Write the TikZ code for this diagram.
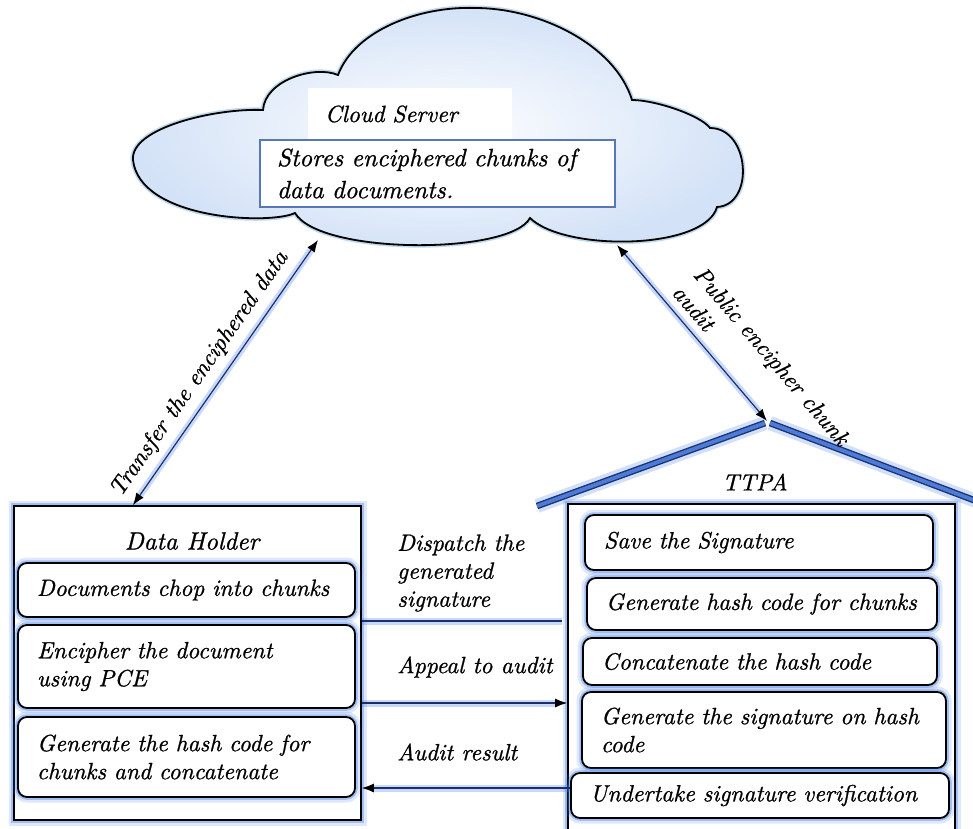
\documentclass[tikz,border=0pt]{standalone}
\usepackage{fontspec}
\usetikzlibrary{arrows.meta,calc}

\newfontfamily\diagfam{lmroman10-italic.otf}[FakeBold=0.9]

\definecolor{glowblue}{HTML}{4A80E8}
\definecolor{linknavy}{HTML}{1C2F6B}
\definecolor{roofblue}{HTML}{4C7CD8}
\definecolor{roofedge}{HTML}{1E3270}
\definecolor{cloudedge}{HTML}{D3E2F7}
\definecolor{framesteel}{HTML}{5877B8}

\newcommand{\diagfont}{\fontsize{23.5}{28}\selectfont\diagfam}

\tikzset{
  txt/.style={font=\diagfont, inner sep=0pt, align=left},
  halo/.style={
    preaction={draw=glowblue, line width=11pt, opacity=0.18},
    preaction={draw=glowblue, line width=5.5pt, opacity=0.4}},
  frame/.style={halo, draw=black, line width=1.8pt, fill=white, rectangle, inner sep=0pt},
  stepbox/.style={halo, draw=black, line width=1.8pt, fill=white, rounded corners=9pt,
    inner xsep=19pt, inner ysep=0pt, font=\diagfont, align=left},
  link/.style={draw=linknavy, line width=1.2pt,
    preaction={draw=glowblue, line width=7pt, opacity=0.3}},
  roof/.style={draw=roofedge, line width=1.4pt, double=roofblue, double distance=3.8pt,
    preaction={draw=glowblue, line width=14pt, opacity=0.25}},
  >={Latex[length=12pt,width=9pt,color=black]}
}

\begin{document}
\begin{tikzpicture}[x=1pt,y=-1pt]
\useasboundingbox[fill=white] (0,0) rectangle (973,828);

% ---------- cloud server ----------
\shadedraw[draw=black, line width=1.8pt, inner color=white, outer color=cloudedge,
  preaction={draw=teal!40!glowblue, line width=5pt, opacity=0.3}]
  (133,160) .. controls (130,128) and (215,108) .. (263,110)
  .. controls (265,80) and (315,65) .. (338,75)
  .. controls (355,30) and (420,6) .. (475,8)
  .. controls (540,8) and (615,45) .. (632,100)
  .. controls (655,100) and (700,115) .. (710,128)
  .. controls (750,128) and (755,205) .. (717,207)
  .. controls (705,250) and (565,252) .. (530,218)
  .. controls (510,255) and (320,255) .. (295,213)
  .. controls (270,225) and (140,220) .. (133,160) -- cycle;

\node[fill=white, minimum width=204pt, minimum height=52pt, inner xsep=17pt,
  text width=170pt, align=left, font=\diagfont] (csTitle) at (410,114) {Cloud Server};
\node[draw=framesteel, line width=1.3pt, fill=white, minimum width=355pt, minimum height=67pt,
  inner xsep=17pt, inner ysep=0pt, text width=321pt, align=left,
  font=\fontsize{25}{32}\selectfont\diagfam] (csStore) at (437.5,173.5)
  {Stores enciphered chunks of\\data documents.};

\coordinate (cloudL) at (318,240);
\coordinate (cloudR) at (617,245);

% ---------- data holder ----------
\node[frame, minimum width=347pt, minimum height=314pt] (dh) at (187.5,663) {};
\node[txt, font=\fontsize{25}{30}\selectfont\diagfam] (dhTitle) at (192,541) {Data Holder};
\node[stepbox, text width=299pt, minimum height=54pt] (dh1) at (186.5,590)
  {\mbox{Documents chop into chunks}};
\node[stepbox, text width=299pt, minimum height=83pt] (dh2) at (186.5,666.5)
  {Encipher the document\\using PCE};
\node[stepbox, text width=299pt, minimum height=80pt] (dh3) at (186.5,757)
  {\mbox{Generate the hash code for}\\chunks and concatenate};

% ---------- TTPA ----------
\node[frame, minimum width=387pt, minimum height=340pt] (ttpa) at (761.5,674) {};
\coordinate (peak) at (767,421);
\draw[roof] (537,506) -- (765,423);
\draw[roof] (770,423) -- (992,507);
\node[txt] (ttTitle) at (755,482) {TTPA};

\node[stepbox, text width=310pt, minimum height=55pt] (tt1) at (759,542.5)
  {Save the Signature};
\node[stepbox, text width=312pt, minimum height=52pt] (tt2) at (762,604)
  {\mbox{Generate hash code for chunks}};
\node[stepbox, text width=316pt, minimum height=47pt] (tt3) at (760,661.5)
  {Concatenate the hash code};
\node[stepbox, text width=326pt, minimum height=76pt] (tt4) at (764,730)
  {\mbox{Generate the signature on hash}\\code};
\node[stepbox, text width=340pt, minimum height=45pt] (tt5) at (760,795.5)
  {\mbox{Undertake signature verification}};

% ---------- connectors ----------
\draw[link, <->] ($(dh.north)+(-54.5,0)$) -- (cloudL)
  node[txt, sloped, above=9pt, pos=0.45] (lblTransfer) {Transfer the enciphered data};
\draw[link, <->] (cloudR) -- (peak)
  node[txt, sloped, above=9pt, pos=0.8] (lblPublic) {Public encipher chunk\\audit};

\coordinate (dispEnd) at (562,621);
\coordinate (appealY) at (0,703);
\coordinate (auditY) at (0,788);
\draw[link] (dh.east |- dispEnd) -- (dispEnd);
\draw[link, ->] (dh.east |- appealY) -- (ttpa.west |- appealY);
\draw[link, ->] (tt5.west |- auditY) -- (dh.east |- auditY);

\node[txt, anchor=west] (lblDispatch) at (397,573) {Dispatch the\\generated\\signature};
\node[txt, anchor=west] (lblAppeal) at (397,667) {Appeal to audit};
\node[txt, anchor=west] (lblAudit) at (397,752) {Audit result};
\end{tikzpicture}
\end{document}
